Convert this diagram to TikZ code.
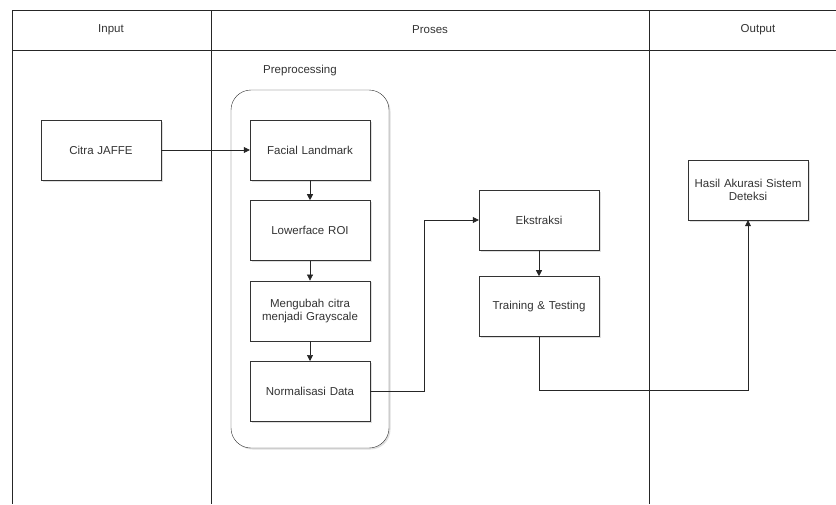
\documentclass[tikz,border=0pt]{standalone}
\usepackage{fontspec}
\setmainfont{Liberation Sans}
\usetikzlibrary{positioning,arrows.meta,shadows}

\begin{document}
\begin{tikzpicture}[
    x=1pt, y=-1pt,
    node distance=20pt,
    every node/.style={font=\fontsize{11.5}{13.5}\selectfont, text=black!80},
    block/.style={rectangle, draw=black!80, fill=white, text width=118pt, align=center, minimum width=120pt, minimum height=60pt, inner sep=1pt, drop shadow={shadow xshift=1.5pt, shadow yshift=-1.5pt, opacity=0.25}},
    lane/.style={draw=black!85, line width=0.8pt},
    arrow/.style={-{Triangle[length=6pt,width=6pt]}, draw=black!85, line width=0.7pt}
]
\useasboundingbox (0,0) rectangle (836,504);

% swimlanes
\draw[lane] (836,10) -- (12,10) -- (12,504);
\draw[lane] (12,50) -- (836,50);
\draw[lane] (211,10) -- (211,504);
\draw[lane] (649,10) -- (649,504);
\node (input) at (111,30) {Input};
\node (proses) at (430,30) {Proses};
\node (output) at (758,30) {Output};

% preprocessing group
\node (prelabel) at (300,71) {Preprocessing};
\draw[draw=black!80, rounded corners=20pt, drop shadow={shadow xshift=1.5pt, shadow yshift=-1.5pt, opacity=0.25}, fill=white] (231,90) rectangle (389,448);

\node[block] (citra) at (101,150) {Citra JAFFE};
\node[block] (facial) at (310,150) {Facial Landmark};
\node[block, below=of facial] (lowerface) {Lowerface ROI};
\node[block, below=of lowerface] (gray) {Mengubah citra\\menjadi Grayscale};
\node[block, below=of gray] (normal) {Normalisasi Data};
\node[block] (ekstraksi) at (539,220) {Ekstraksi};
\node[block, below=26pt of ekstraksi] (training) {Training \& Testing};
\node[block] (hasil) at (748,190) {Hasil Akurasi Sistem\\Deteksi};

\draw[arrow] (citra) -- (facial);
\draw[arrow] (facial) -- (lowerface);
\draw[arrow] (lowerface) -- (gray);
\draw[arrow] (gray) -- (normal);
\draw[arrow] (normal.east) -- ++(54,0) |- (ekstraksi.west);
\draw[arrow] (ekstraksi) -- (training);
\draw[arrow] (training.south) -- ++(0,54) -| (hasil.south);
\end{tikzpicture}
\end{document}
